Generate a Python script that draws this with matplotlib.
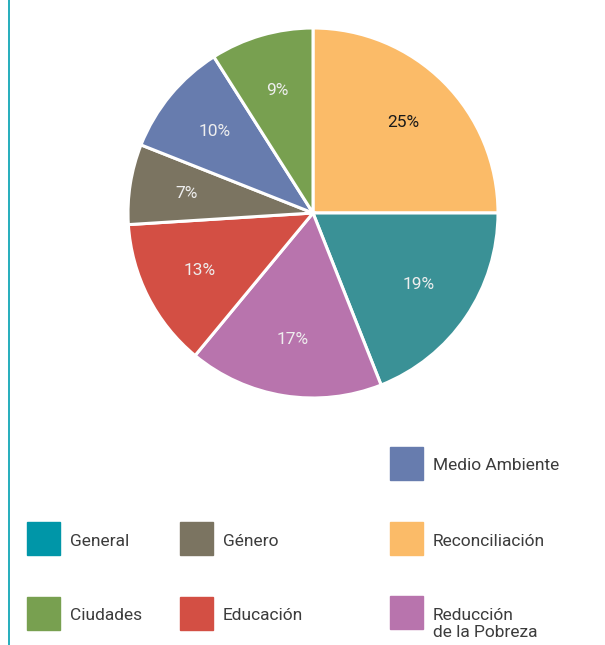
import matplotlib.pyplot as plt
from matplotlib.patches import Rectangle

plt.rcParams['font.family'] = ['Roboto', 'DejaVu Sans']

# datos de la torta (sentido horario desde arriba)
categorias = ['Reconciliación', 'General', 'Reducción de la Pobreza', 'Educación',
              'Género', 'Medio Ambiente', 'Ciudades']
valores = [25, 19, 17, 13, 7, 10, 9]
colores_torta = ['#fbbb68', '#3a9196', '#b874ad', '#d34f44',
                 '#7b7461', '#677cae', '#78a050']
color_texto = ['#1a1a1a', '#eeeeee', '#eeeeee', '#eeeeee', '#eeeeee', '#eeeeee', '#eeeeee']

# leyenda (orden y colores como en el original)
leyenda_nombres = ['General', 'Género', 'Reconciliación', 'Ciudades', 'Educación',
                   'Reducción\nde la Pobreza', 'Medio Ambiente']
leyenda_colores = ['#0096a8', '#7b7461', '#fbbb68', '#78a050', '#d34f44',
                   '#b874ad', '#677cae']
leyenda_pos = [(27, 522), (180, 522), (390, 522), (27, 597), (180, 597),
               (390, 596), (390, 447)]

W, H = 605, 645
fig = plt.figure(figsize=(W / 100, H / 100), dpi=100)

# línea vertical a la izquierda
fig.add_artist(plt.Line2D([8.5 / W, 8.5 / W], [0, 1], color='#00a0b0', lw=1.2))

# torta
cx, cy, r = 313, 213, 185
ax = fig.add_axes([(cx - r) / W, (H - cy - r) / H, 2 * r / W, 2 * r / H])
wedges, textos = ax.pie(valores, colors=colores_torta, startangle=90, counterclock=False,
                        labels=[f'{v}%' for v in valores], labeldistance=0.69,
                        wedgeprops=dict(edgecolor='white', linewidth=2.2))
for t, c in zip(textos, color_texto):
    t.set_color(c)
    t.set_fontsize(12.5)
    t.set_ha('center')
    t.set_va('center')
ax.set_xlim(-1, 1)
ax.set_ylim(-1, 1)
ax.axis('off')

# leyenda manual
for nombre, col, (x, y) in zip(leyenda_nombres, leyenda_colores, leyenda_pos):
    fig.add_artist(Rectangle((x / W, 1 - (y + 33) / H), 33 / W, 33 / H,
                             transform=fig.transFigure, color=col))
    fig.text((x + 43) / W, 1 - (y + 19) / H if '\n' not in nombre else 1 - (y + 28) / H,
             nombre, fontsize=12.5, color='#3c3c3c',
             va='center', ha='left', linespacing=1.2)

fig.savefig('out.png', dpi=100)
